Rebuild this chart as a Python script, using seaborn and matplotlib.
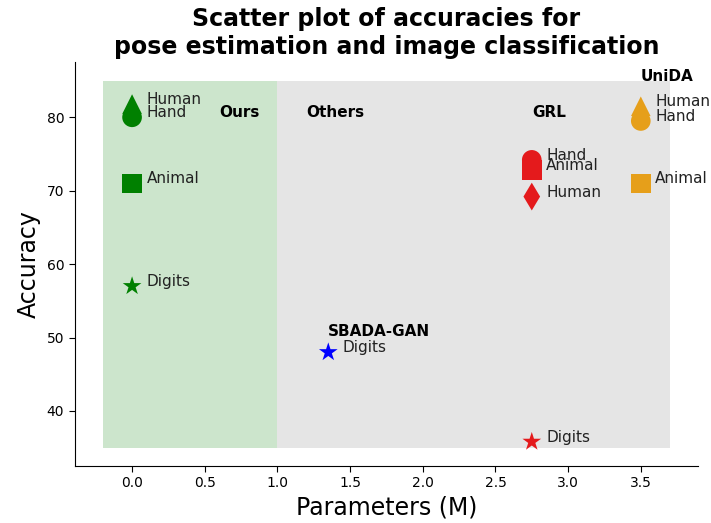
import pandas as pd
import matplotlib
matplotlib.use('Agg')
import matplotlib.pyplot as plt
import seaborn as sns

# Values
methods = ['Ours', 'Ours', 'Ours', 'Ours',
           'SBADA-GAN',
           'GRL', 'GRL', 'GRL', 'GRL',
           'UniDA', 'UniDA', 'UniDA']
tasks = ['Human', 'Hand', 'Animal', 'Digits',
         'Digits',
         'Hand', 'Animal', 'Human', 'Digits',
         'Human', 'Hand', 'Animal']
params = [0.0, 0.0, 0.0, 0.0,
          1.35,
          2.75, 2.75, 2.75, 2.75,
          3.5, 3.5, 3.5]
accuracy = [81.8, 80.0, 71.0, 57.0,
            48.0,
            74.2, 72.8, 69.2, 35.8,
            81.5, 79.5, 71.0]
markers = ['^', 'o', 's', '*',
           '*',
           'o', 's', 'd', '*',
           '^', 'o', 's']

colors = {'Ours': 'green', 'SBADA-GAN': 'blue', 'GRL': '#e41a1c', 'UniDA': '#e69f1a'}

# group labels: (text, x, y)
group_labels = [('Ours', 0.6, 80), ('Others', 1.2, 80), ('SBADA-GAN', 1.35, 50.2),
                ('GRL', 2.75, 80), ('UniDA', 3.5, 85)]

df = pd.DataFrame({'method': methods, 'task': tasks, 'params': params,
                   'accuracy': accuracy, 'marker': markers})

sns.set_style('white')
plt.rcParams.update({'text.color': 'black', 'axes.labelcolor': 'black',
                     'xtick.color': 'black', 'ytick.color': 'black',
                     'axes.edgecolor': 'black'})
fig, ax = plt.subplots(figsize=(7.11, 5.23), dpi=100)
fig.subplots_adjust(left=0.105, right=0.982, top=0.881, bottom=0.109)

# shaded regions
ax.fill_between([-0.2, 1.0], 35, 85, color='green', alpha=0.2, linewidth=0, zorder=0)
ax.fill_between([1.0, 3.7], 35, 85, color='gray', alpha=0.2, linewidth=0, zorder=0)

for m in ['^', 'd', 's', '*', 'o']:
    sub = df[df['marker'] == m]
    sns.scatterplot(data=sub, x='params', y='accuracy', hue='method', palette=colors,
                    marker=m, s=200, edgecolor='none', legend=False, ax=ax, zorder=3)

for _, r in df.iterrows():
    ax.text(r['params'] + 0.1, r['accuracy'], r['task'], fontsize=11, color='#222222')

for txt, x, y in group_labels:
    ax.text(x, y, txt, fontsize=11, fontweight='bold')

ax.set_xlim(-0.395, 3.895)
ax.set_ylim(32.5, 87.5)
ax.set_xticks([0.0, 0.5, 1.0, 1.5, 2.0, 2.5, 3.0, 3.5])
ax.set_yticks([40, 50, 60, 70, 80])
ax.tick_params(axis='both', which='both', left=True, bottom=True, length=4, labelsize=10)
ax.set_xlabel('Parameters (M)', fontsize=17)
ax.set_ylabel('Accuracy', fontsize=17)
ax.set_title('Scatter plot of accuracies for\npose estimation and image classification',
             fontsize=17, fontweight='bold')
sns.despine(ax=ax)

plt.savefig('out.png', dpi=100)
